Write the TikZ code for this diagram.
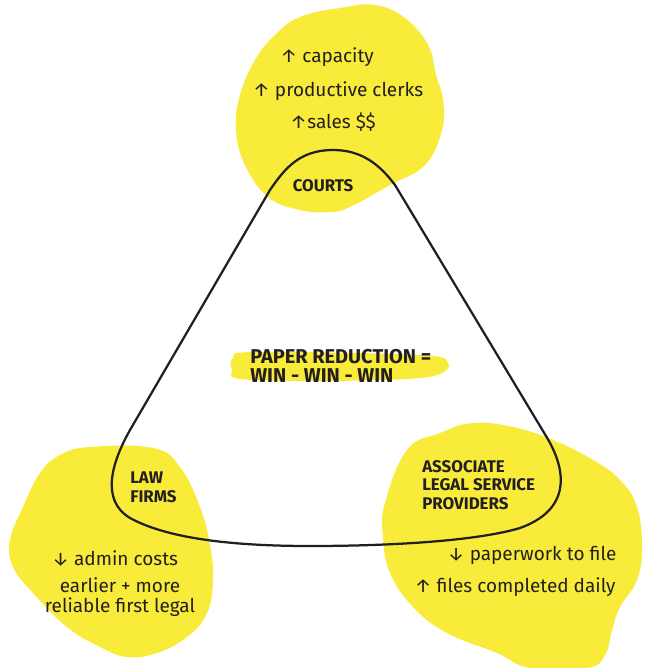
\documentclass[tikz,border=0pt]{standalone}
\usepackage{fontspec}
\setmainfont{Fira Sans}
\usepackage{xcolor}
\usetikzlibrary{positioning}
\definecolor{marker}{HTML}{F9EB3A}
\definecolor{ink}{HTML}{231F20}

\begin{document}
\begin{tikzpicture}[
  x=0.025cm, y=-0.025cm,
  blob/.style={fill=marker, draw=none},
  gain/.style={font=\fontsize{13.5}{14}\selectfont, text=ink, inner sep=0pt, align=center},
  party/.style={font=\fontsize{12}{13.3}\selectfont\bfseries, text=ink, inner sep=0pt, align=left},
  motto/.style={font=\fontsize{14.2}{13.5}\selectfont\bfseries, text=ink, inner sep=0pt, align=left},
  loopline/.style={draw=ink, line width=1.6pt},
]
  \useasboundingbox (0,0) rectangle (646,668);

  % Yellow blobs behind the three parties
  \fill[blob] plot[smooth cycle, tension=0.7] coordinates {
    (300,17) (340,8) (375,5) (405,18) (428,45) (436,75) (443,100) (442,130)
    (425,165) (390,185) (350,207) (330,212) (300,210) (268,197) (245,165)
    (236,130) (240,95) (255,60) (275,35)};
  \fill[blob] plot[smooth cycle, tension=0.7] coordinates {
    (60,455) (90,447) (153,448) (180,467) (200,507) (210,545) (213,580)
    (207,613) (187,637) (157,653) (127,657) (100,647) (67,627) (33,593)
    (13,567) (10,540) (23,507) (40,473)};
  \fill[blob] plot[smooth cycle, tension=0.7] coordinates {
    (385,503) (407,450) (440,433) (473,423) (513,427) (553,440) (593,460)
    (620,480) (637,507) (642,547) (637,580) (620,607) (612,630) (605,655)
    (587,668) (530,668) (497,653) (447,633) (413,607) (390,573) (383,537)};
  % highlight behind the motto
  \fill[blob] plot[smooth cycle, tension=0.6] coordinates {
    (233,358) (255,352) (420,355) (448,363) (440,374) (407,379) (320,381)
    (240,379) (232,370)};

  % Rounded triangle
  \draw[loopline] (333,150)
    .. controls (300,150) and (285,168) .. (270,190)
    -- (130,430)
    .. controls (112,462) and (100,500) .. (130,518)
    .. controls (170,540) and (240,546) .. (310,546)
    .. controls (400,546) and (480,540) .. (520,528)
    .. controls (570,510) and (568,472) .. (546,436)
    -- (395,185)
    .. controls (380,165) and (362,150) .. (333,150)
    -- cycle;

  % Courts
  \node[gain] (cap) at (327,57) {↑ capacity};
  \node[gain] (clerks) at (338,91) {↑ productive clerks};
  \node[gain] (sales) at (333,122) {↑sales \$\$};
  \node[party] (courts) at (323,186) {COURTS};

  % Motto in the middle
  \node[motto, anchor=west] (motto) at (250,366) {PAPER REDUCTION =\\WIN - WIN - WIN};

  % Law firms
  \node[party, anchor=north west] (law) at (130,472) {LAW\\FIRMS};
  \node[gain] (admin) at (115,558) {↓ admin costs};
  \node[gain] (earlier) at (120,597) {earlier + more\\reliable first legal};

  % Associate legal service providers
  \node[party, anchor=north west] (alsp) at (422,460) {ASSOCIATE\\LEGAL SERVICE\\PROVIDERS};
  \node[gain] (paper) at (532,555) {↓ paperwork to file};
  \node[gain] (files) at (515,587) {↑ files completed daily};

\end{tikzpicture}
\end{document}
